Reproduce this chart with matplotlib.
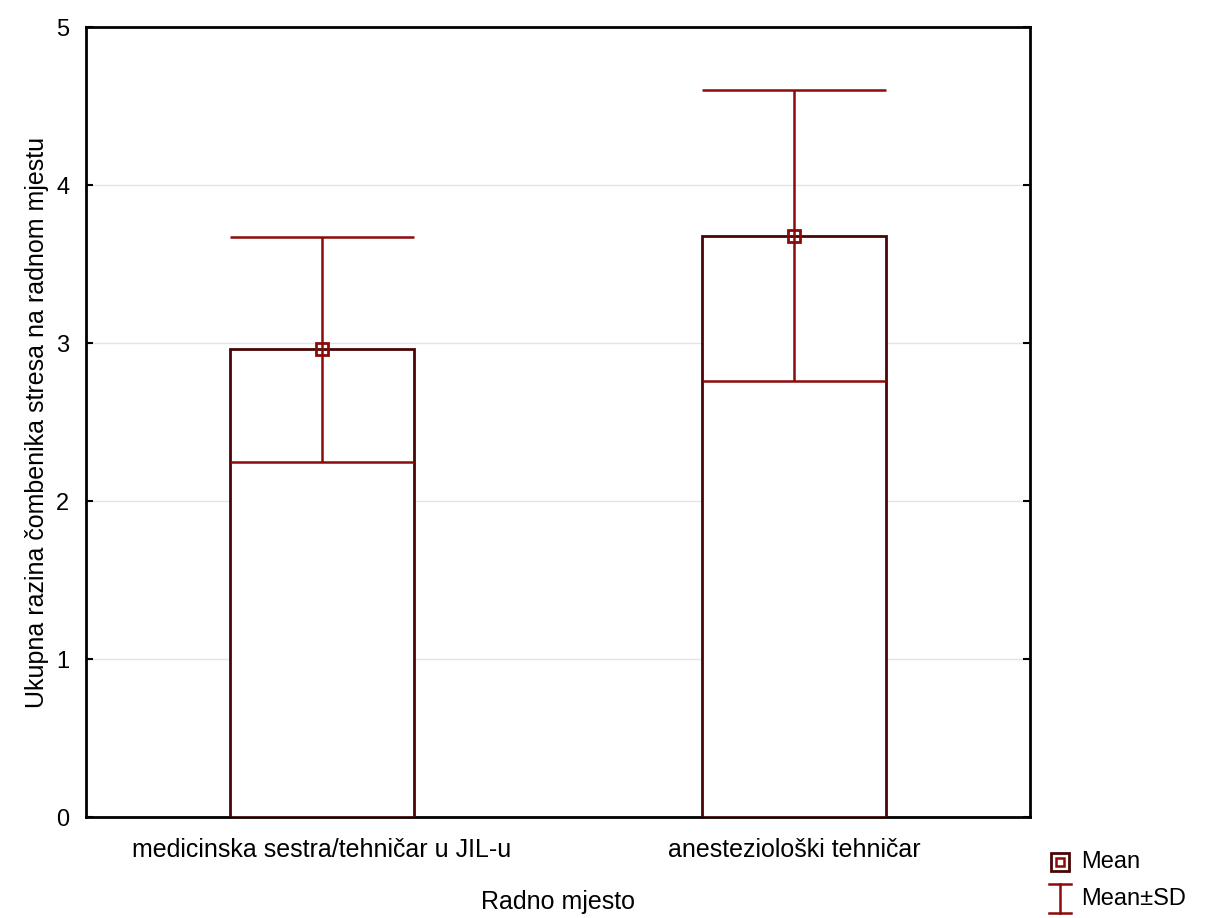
import matplotlib
matplotlib.use('Agg')
import matplotlib.pyplot as plt
from matplotlib.lines import Line2D

plt.rcParams['font.family'] = ['Liberation Sans', 'DejaVu Sans']

categories = ["medicinska sestra/tehničar u JIL-u", "anesteziološki tehničar"]
means = [2.96, 3.68]
sds = [0.71, 0.92]
y_ticks = [0, 1, 2, 3, 4, 5]

bar_edge = "#4a0505"
err_color = "#8b0a0a"

fig = plt.figure(figsize=(12.11, 9.18), dpi=100)
ax = fig.add_axes([0.071, 0.110, 0.7795, 0.8604])

x = list(range(len(categories)))
ax.bar(x, means, width=0.39, facecolor="white", edgecolor=bar_edge, linewidth=2, zorder=3)
ax.errorbar(x, means, yerr=sds, fmt="none", ecolor=err_color, elinewidth=1.8,
            capsize=66.5, capthick=1.8, zorder=4)
ax.plot(x, means, linestyle="none", marker="s", markersize=8, markerfacecolor="none",
        markeredgecolor=err_color, markeredgewidth=2, zorder=5)

ax.set_xlim(-0.5, 1.5)
ax.set_ylim(0, 5)
ax.set_yticks(y_ticks)
ax.set_xticks(x)
ax.set_xticklabels(categories, fontsize=18)
ax.tick_params(axis="y", labelsize=17, direction="in", length=5, width=1.5, right=True, pad=12)
ax.tick_params(axis="x", length=0, pad=15)
ax.grid(axis="y", color="#e4e4e4", linewidth=1, zorder=0)
for spine in ax.spines.values():
    spine.set_linewidth(2)

ax.set_xlabel("Radno mjesto", fontsize=18, labelpad=20)
ax.set_ylabel("Ukupna razina čombenika stresa na radnom mjestu", fontsize=18, labelpad=5)

# legend drawn manually (box marker + I-shaped error symbol)
fig.add_artist(Line2D([0.8755], [0.061], transform=fig.transFigure, marker="s", markersize=13,
                      markerfacecolor="none", markeredgecolor=bar_edge, markeredgewidth=2))
fig.add_artist(Line2D([0.8755], [0.061], transform=fig.transFigure, marker="s", markersize=6,
                      markerfacecolor="none", markeredgecolor=err_color, markeredgewidth=1.8))
fig.add_artist(Line2D([0.8755, 0.8755], [0.005, 0.037], transform=fig.transFigure,
                      color=err_color, linewidth=1.8))
fig.add_artist(Line2D([0.8665, 0.8845], [0.037, 0.037], transform=fig.transFigure,
                      color=err_color, linewidth=1.8))
fig.add_artist(Line2D([0.8665, 0.8845], [0.005, 0.005], transform=fig.transFigure,
                      color=err_color, linewidth=1.8))
fig.text(0.893, 0.061, "Mean", fontsize=17, va="center")
fig.text(0.893, 0.021, "Mean±SD", fontsize=17, va="center")

fig.savefig("out.png", dpi=100, facecolor="white")
